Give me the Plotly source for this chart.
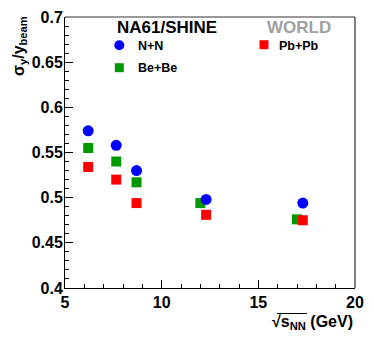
import plotly.graph_objects as go

# Data
nn_x = [6.2, 7.65, 8.7, 12.3, 17.3]
nn_y = [0.574, 0.558, 0.530, 0.498, 0.494]
bebe_x = [6.2, 7.65, 8.7, 12.0, 17.0]
bebe_y = [0.555, 0.540, 0.517, 0.494, 0.476]
pbpb_x = [6.2, 7.65, 8.7, 12.3, 17.3]
pbpb_y = [0.534, 0.520, 0.494, 0.481, 0.475]

W, H = 374, 340
ML, MR, MT, MB = 65, 19, 17, 52
PW, PH = W - ML - MR, H - MT - MB

def px(x):
    return (x - ML) / PW

def py(y):
    return (H - MB - y) / PH

FONT = "Liberation Sans"
BLUE, GREEN, RED = "#0000ff", "#009900", "#ff0000"

fig = go.Figure()
fig.add_trace(go.Scatter(x=bebe_x, y=bebe_y, mode="markers", name="Be+Be",
                         marker=dict(symbol="square", size=10, color=GREEN)))
fig.add_trace(go.Scatter(x=nn_x, y=nn_y, mode="markers", name="N+N",
                         marker=dict(symbol="circle", size=11, color=BLUE)))
fig.add_trace(go.Scatter(x=pbpb_x, y=pbpb_y, mode="markers", name="Pb+Pb",
                         marker=dict(symbol="square", size=10, color=RED)))

tickfont = dict(family=FONT, size=16, color="black", weight="bold")
fig.update_xaxes(range=[5, 20], dtick=5, tick0=5, ticks="inside", ticklen=8,
                 tickcolor="black", showgrid=False, zeroline=False, automargin=False,
                 showline=True, linecolor="black", linewidth=1,
                 tickfont=tickfont,
                 minor=dict(dtick=1, ticks="inside", ticklen=4, tickcolor="black", showgrid=False))
fig.update_yaxes(range=[0.4, 0.7], dtick=0.05, tick0=0.4, ticks="inside", ticklen=8,
                 tickcolor="black", showgrid=False, zeroline=False, automargin=False,
                 showline=True, linecolor="black", linewidth=1,
                 tickfont=tickfont, ticklabelstandoff=-2,
                 minor=dict(dtick=0.01, ticks="inside", ticklen=4, tickcolor="black", showgrid=False))

shapes = [
    dict(type="line", xref="paper", yref="paper", x0=0, x1=1, y0=1, y1=1,
         line=dict(color="#777777", width=1.5)),
    dict(type="line", xref="paper", yref="paper", x0=1, x1=1, y0=0, y1=1,
         line=dict(color="black", width=1)),
    # legend markers
    dict(type="circle", xref="paper", yref="paper",
         x0=px(114.3), x1=px(124.3), y0=py(50.3), y1=py(40.3),
         fillcolor=BLUE, line=dict(width=0)),
    dict(type="rect", xref="paper", yref="paper",
         x0=px(114.8), x1=px(123.8), y0=py(72.2), y1=py(63.2),
         fillcolor=GREEN, line=dict(width=0)),
    dict(type="rect", xref="paper", yref="paper",
         x0=px(259.5), x1=px(268.5), y0=py(49.2), y1=py(40.2),
         fillcolor=RED, line=dict(width=0)),
    # overline of the square root
    dict(type="line", xref="paper", yref="paper",
         x0=px(277), x1=px(307), y0=py(313.5), y1=py(313.5),
         line=dict(color="black", width=1)),
]

ann = [
    dict(text="NA61/SHINE", x=px(115), y=py(27), xanchor="left", yanchor="middle",
         font=dict(family=FONT, size=17, color="black", weight="bold")),
    dict(text="WORLD", x=px(265), y=py(27), xanchor="left", yanchor="middle",
         font=dict(family=FONT, size=17, color="#a0a0a0", weight="bold")),
    dict(text="N+N", x=px(136), y=py(46), xanchor="left", yanchor="middle",
         font=dict(family=FONT, size=12.5, color="black", weight="bold")),
    dict(text="Be+Be", x=px(136), y=py(68), xanchor="left", yanchor="middle",
         font=dict(family=FONT, size=12.5, color="black", weight="bold")),
    dict(text="Pb+Pb", x=px(277), y=py(46), xanchor="left", yanchor="middle",
         font=dict(family=FONT, size=12.5, color="black", weight="bold")),
    dict(text="σ<sub>y</sub>/y<sub>beam</sub>", x=px(20), y=py(14), textangle=-90,
         xanchor="center", yanchor="top",
         font=dict(family=FONT, size=16, color="black", weight="bold")),
    dict(text="√s<sub>NN</sub> (GeV)", x=px(355), y=py(322), xanchor="right", yanchor="middle",
         font=dict(family=FONT, size=16, color="black", weight="bold")),
]
for a in ann:
    a.update(xref="paper", yref="paper", showarrow=False)

fig.update_layout(width=W, height=H, margin=dict(l=ML, r=MR, t=MT, b=MB),
                  paper_bgcolor="white", plot_bgcolor="white", showlegend=False,
                  shapes=shapes, annotations=ann, font=dict(family=FONT))
fig.write_html("out.html", config={"displayModeBar": False},
               post_script="document.body.style.margin='0';document.body.style.overflow='hidden';")
